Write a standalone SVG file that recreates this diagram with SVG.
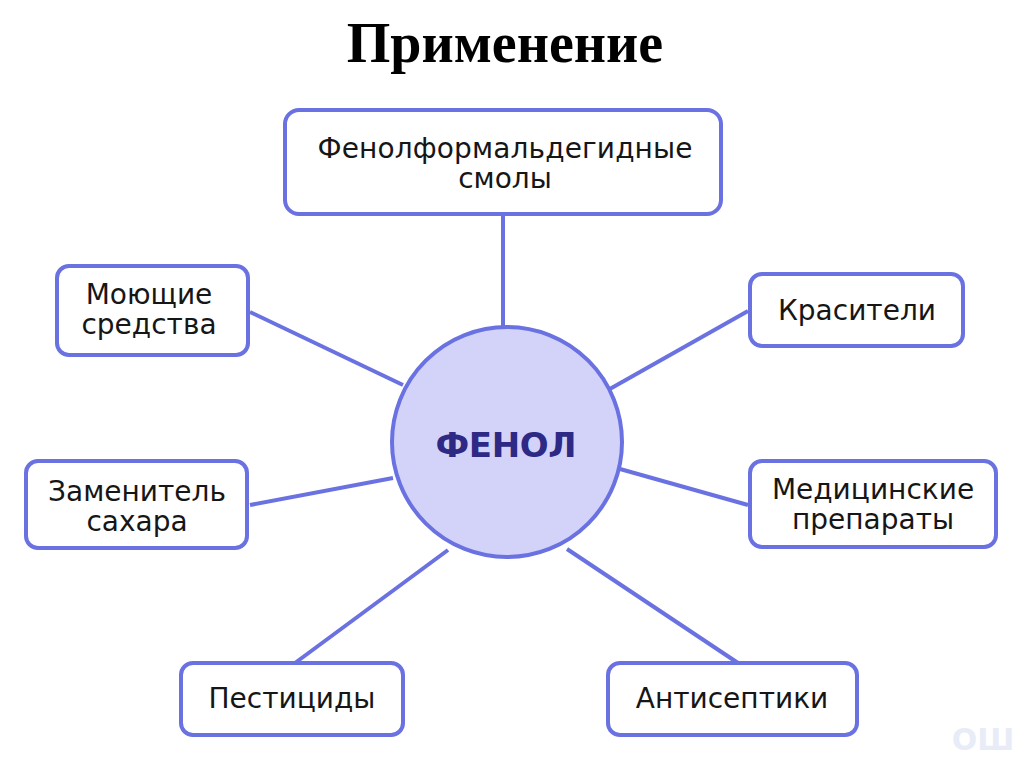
<svg xmlns="http://www.w3.org/2000/svg" width="1024" height="767" viewBox="0 0 1024 767">
<style>
.box{fill:#ffffff;stroke:#6a72e2;stroke-width:4}
.lbl{font-family:"DejaVu Sans","Noto Sans",sans-serif;font-size:28px;fill:#161616;text-anchor:middle}
.conn line{stroke:#6a72e2;stroke-width:4}
</style>
<rect width="1024" height="767" fill="#ffffff"/>
<text x="505" y="62" font-family="Liberation Serif,serif" font-weight="bold" font-size="56" text-anchor="middle" fill="#000">Применение</text>
<g id="connectors" class="conn">
<line x1="503" y1="214" x2="503" y2="327"/>
<line x1="250" y1="312" x2="403" y2="385"/>
<line x1="748" y1="311" x2="608" y2="390"/>
<line x1="250" y1="505" x2="393" y2="478"/>
<line x1="748" y1="505" x2="620" y2="469"/>
<line x1="295" y1="663" x2="448" y2="550"/>
<line x1="738" y1="663" x2="567" y2="549"/>
</g>
<g id="phenol">
<circle cx="507" cy="442" r="115" fill="#d3d3f9" stroke="#6a72e2" stroke-width="4"/>
<text x="506" y="457" font-family="DejaVu Sans,sans-serif" font-weight="bold" font-size="34" text-anchor="middle" fill="#2d2985" textLength="141">ФЕНОЛ</text>
</g>
<g id="resins">
<rect class="box" x="285" y="110" width="436" height="104" rx="14"/>
<text class="lbl" x="505" y="158" textLength="375">Фенолформальдегидные</text>
<text class="lbl" x="505" y="188">смолы</text>
</g>
<g id="detergents">
<rect class="box" x="57" y="266" width="191" height="89" rx="12"/>
<text class="lbl" x="149" y="304">Моющие</text>
<text class="lbl" x="149" y="334">средства</text>
</g>
<g id="dyes">
<rect class="box" x="750" y="274" width="213" height="72" rx="12"/>
<text class="lbl" x="857" y="320">Красители</text>
</g>
<g id="sweetener">
<rect class="box" x="26" y="461" width="221" height="87" rx="12"/>
<text class="lbl" x="137" y="501">Заменитель</text>
<text class="lbl" x="137" y="531">сахара</text>
</g>
<g id="medicines">
<rect class="box" x="750" y="461" width="246" height="86" rx="12"/>
<text class="lbl" x="873" y="499">Медицинские</text>
<text class="lbl" x="873" y="529">препараты</text>
</g>
<g id="pesticides">
<rect class="box" x="181" y="663" width="222" height="72" rx="12"/>
<text class="lbl" x="292" y="708">Пестициды</text>
</g>
<g id="antiseptics">
<rect class="box" x="608" y="663" width="249" height="72" rx="12"/>
<text class="lbl" x="732" y="708">Антисептики</text>
</g>
<text x="983" y="750" font-family="DejaVu Sans,sans-serif" font-weight="bold" font-size="30" text-anchor="middle" fill="#e8ecf7">ОШ</text>
</svg>
